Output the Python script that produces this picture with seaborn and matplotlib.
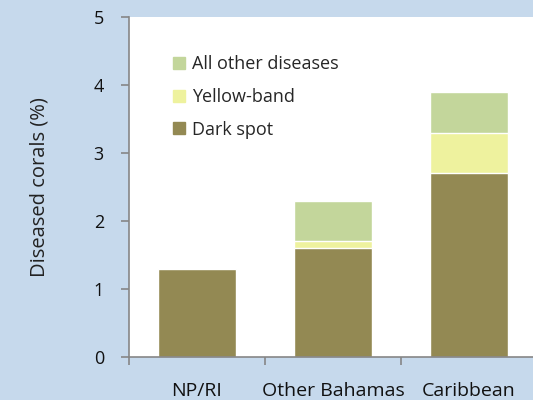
import matplotlib
matplotlib.use("Agg")
import matplotlib.pyplot as plt
import seaborn as sns
import pandas as pd
from matplotlib.patches import Patch
from matplotlib.ticker import FixedLocator

regions = ["NP/RI", "Other Bahamas", "Caribbean"]
dark_spot = [1.3, 1.6, 2.7]
yellow_band = [0.0, 0.1, 0.6]
other_diseases = [0.0, 0.6, 0.6]

series = ["Dark spot", "Yellow-band", "All other diseases"]
colors = {"Dark spot": "#938953", "Yellow-band": "#eef29e", "All other diseases": "#c3d69b"}

sns.set_theme(style="white")
plt.rcParams["font.family"] = ["Open Sans", "DejaVu Sans"]

df = pd.DataFrame({"region": regions, "Dark spot": dark_spot,
                   "Yellow-band": yellow_band, "All other diseases": other_diseases})
# cumulative tops so bars can be layered back to front
cum = df[series].cumsum(axis=1)
cum["region"] = df["region"]

bg = "#c6d9ec"
fig = plt.figure(figsize=(5.33, 4.0), dpi=100, facecolor=bg)
ax = fig.add_axes([0.242, 0.1075, 0.758, 0.85])
ax.set_facecolor("white")

for s in reversed(series):
    sns.barplot(cum, x="region", y=s, color=colors[s], width=0.574,
                saturation=1, ax=ax, order=regions)

ax.set_ylim(0, 5)
ax.set_xlim(-0.5, 2.47)
ax.set_yticks([0, 1, 2, 3, 4, 5])
ax.set_xlabel("")
ax.set_ylabel("Diseased corals (%)", fontsize=14.5, color="#222222", labelpad=32)

for side in ["top", "right"]:
    ax.spines[side].set_visible(False)
for side in ["left", "bottom"]:
    ax.spines[side].set_color("#868686")
    ax.spines[side].set_linewidth(1.2)

ax.tick_params(axis="y", left=True, length=6, width=1.2, color="#868686",
               labelsize=13, labelcolor="#111111", pad=12)
ax.tick_params(axis="x", which="major", bottom=False, labelsize=14,
               labelcolor="#111111", pad=12)
ax.xaxis.set_minor_locator(FixedLocator([-0.5, 0.5, 1.5, 2.5]))
ax.tick_params(axis="x", which="minor", bottom=True, length=6, width=1.2,
               color="#868686", direction="out")

handles = [Patch(color=colors[s], label=s) for s in reversed(series)]
ax.legend(handles=handles, loc="upper left", bbox_to_anchor=(0.091, 0.909),
          frameon=False, fontsize=13, handlelength=0.65, handleheight=0.65,
          handletextpad=0.4, labelspacing=0.82, borderaxespad=0)

fig.savefig("out.png", dpi=100, facecolor=bg)
